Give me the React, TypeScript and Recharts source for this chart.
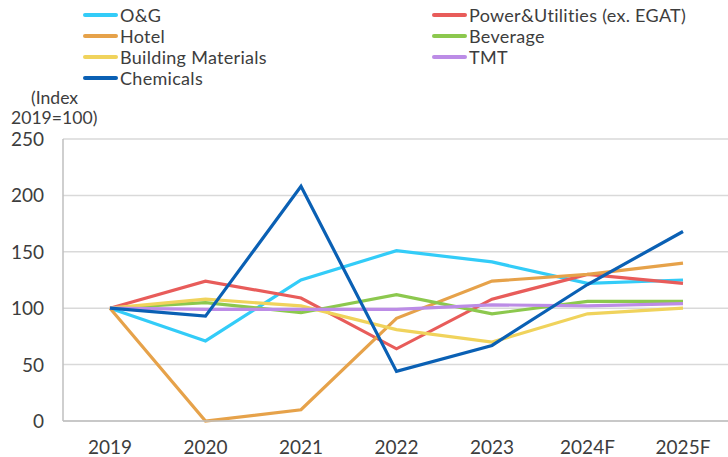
import React from 'react';
import { LineChart, Line, XAxis, YAxis, CartesianGrid } from 'recharts';

const years = ['2019', '2020', '2021', '2022', '2023', '2024F', '2025F'];
const oilGas = [100, 71, 125, 151, 141, 122, 125];
const power = [100, 124, 109, 64, 108, 130, 122];
const hotel = [100, 0, 10, 91, 124, 130, 140];
const beverage = [100, 105, 96, 112, 95, 106, 106];
const building = [100, 108, 102, 81, 70, 95, 100];
const tmt = [100, 99, 99, 99, 103, 102, 104];
const chemicals = [100, 93, 208, 44, 67, 121, 168];
const yTicks = [0, 50, 100, 150, 200, 250];

const seriesNames = ['O&G', 'Power&Utilities (ex. EGAT)', 'Hotel', 'Beverage', 'Building Materials', 'TMT', 'Chemicals'];
const seriesKeys = ['og', 'power', 'hotel', 'beverage', 'building', 'tmt', 'chemicals'];
const seriesValues = [oilGas, power, hotel, beverage, building, tmt, chemicals];
const seriesColors = ['#33CCF8', '#E85C5A', '#E6A24A', '#8CC84E', '#F0D35C', '#BC8CE6', '#0A60B4'];

const data = years.map((y, i) => {
  const row: Record<string, string | number> = { year: y };
  seriesKeys.forEach((k, j) => {
    row[k] = seriesValues[j][i];
  });
  return row;
});

const FONT = 'Lato, "Noto Sans", sans-serif';
const TEXT = '#3d3d3d';

const XTick = (props: any) => {
  const { x, y, payload } = props;
  return (
    <text x={x} y={y + 31} textAnchor="middle" fontFamily={FONT} fontSize={19} fill={TEXT}>
      {payload.value}
    </text>
  );
};

const YTick = (props: any) => {
  const { x, y, payload } = props;
  return (
    <text x={x} y={y + 7} textAnchor="end" fontFamily={FONT} fontSize={19} fill={TEXT}>
      {payload.value}
    </text>
  );
};

export default function App() {
  const legendItems = seriesNames.map((n, i) => ({ name: n, color: seriesColors[i] }));
  return (
    <div style={{ position: 'absolute', left: 0, top: 0, width: 728, height: 457, background: '#fff' }}>
      <LineChart
        width={728}
        height={457}
        data={data}
        margin={{ top: 139, right: 0, bottom: 0, left: 0 }}
      >
        <CartesianGrid vertical={false} stroke="#d9d9d9" strokeWidth={1.5} />
        <XAxis
          dataKey="year"
          height={36}
          tickLine={false}
          tickSize={0}
          axisLine={{ stroke: '#bfbfbf', strokeWidth: 1.5 }}
          padding={{ left: 47, right: 45 }}
          tick={<XTick />}
          interval={0}
        />
        <YAxis
          width={63}
          domain={[0, 250]}
          ticks={yTicks}
          tickLine={false}
          tickSize={0}
          tickMargin={19}
          axisLine={{ stroke: '#bfbfbf', strokeWidth: 1.5 }}
          tick={<YTick />}
          interval={0}
        />
        {seriesKeys.map((k, i) => (
          <Line
            key={k}
            dataKey={k}
            name={seriesNames[i]}
            stroke={seriesColors[i]}
            strokeWidth={3.2}
            dot={false}
            activeDot={false}
            isAnimationActive={false}
            strokeLinejoin="miter"
          />
        ))}
      </LineChart>
      {legendItems.map((it, i) => {
        const col = i % 2;
        const row = Math.floor(i / 2);
        const left = col === 0 ? 83 : 432;
        const top = 15 + row * 21;
        return (
          <div
            key={it.name}
            style={{
              position: 'absolute',
              left,
              top: top - 11,
              height: 22,
              display: 'flex',
              alignItems: 'center',
              fontFamily: FONT,
              fontSize: 18,
              letterSpacing: 0.3,
              color: TEXT,
              whiteSpace: 'nowrap',
            }}
          >
            <div style={{ width: 35, height: 4, background: it.color, borderRadius: 2, marginRight: 2 }} />
            <span>{it.name}</span>
          </div>
        );
      })}
      <div
        style={{
          position: 'absolute',
          left: 0,
          top: 88,
          width: 112,
          fontFamily: FONT,
          fontSize: 17.6,
          color: TEXT,
          lineHeight: '20px',
        }}
      >
        <div style={{ paddingLeft: 31 }}>(Index</div>
        <div style={{ paddingLeft: 11 }}>2019=100)</div>
      </div>
    </div>
  );
}
